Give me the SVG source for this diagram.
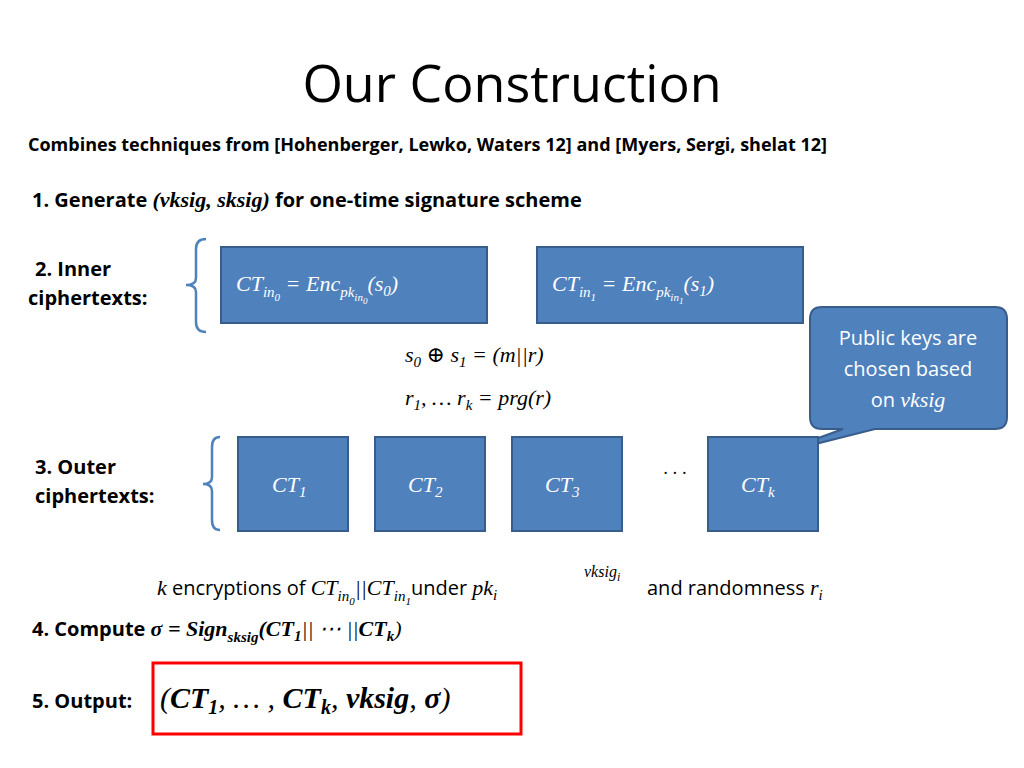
<svg xmlns="http://www.w3.org/2000/svg" width="1024" height="768" viewBox="0 0 1024 768">
<style>
.t{font-family:"Open Sans","Liberation Sans",sans-serif;fill:#000}
.b{font-weight:bold}
.m{font-family:"Liberation Serif","DejaVu Serif",serif;font-style:italic}
.w{fill:#fff}
.box{fill:#4F81BD;stroke:#385D8A;stroke-width:2}
.br{fill:none;stroke:#4F81BD;stroke-width:2.5}
</style>
<rect width="1024" height="768" fill="#fff"/>
<text class="t" x="512" y="102" font-size="52" text-anchor="middle">Our Construction</text>
<text class="t b" x="28" y="151" font-size="18">Combines techniques from [Hohenberger, Lewko, Waters 12] and [Myers, Sergi, shelat 12]</text>
<text class="t b" x="32" y="207" font-size="20">1.  Generate <tspan class="m" font-size="22">(vksig, sksig)</tspan> for one-time signature scheme</text>
<text class="t b" x="35" y="276" font-size="20">2.  Inner</text>
<text class="t b" x="28" y="305" font-size="20">ciphertexts:</text>
<path class="br" d="M206,239 Q196,239 196,249 L196,278 Q196,285 186,285 Q196,285 196,292 L196,322 Q196,332 206,332"/>
<g id="in0"><rect class="box" x="221" y="247" width="266" height="76"/>
<text class="m w" x="236" y="291" font-size="22">CT<tspan font-size="15" dy="6">in</tspan><tspan font-size="11" dy="4">0</tspan><tspan dy="-10"> = Enc</tspan><tspan font-size="15" dy="6">pk</tspan><tspan font-size="11" dy="4">in</tspan><tspan font-size="9" dy="3">0</tspan><tspan dy="-13">(s</tspan><tspan font-size="15" dy="5">0</tspan><tspan dy="-5">)</tspan></text></g>
<g id="in1"><rect class="box" x="537" y="247" width="266" height="76"/>
<text class="m w" x="552" y="291" font-size="22">CT<tspan font-size="15" dy="6">in</tspan><tspan font-size="11" dy="4">1</tspan><tspan dy="-10"> = Enc</tspan><tspan font-size="15" dy="6">pk</tspan><tspan font-size="11" dy="4">in</tspan><tspan font-size="9" dy="3">1</tspan><tspan dy="-13">(s</tspan><tspan font-size="15" dy="5">1</tspan><tspan dy="-5">)</tspan></text></g>
<text class="m" x="405" y="362" font-size="22">s<tspan font-size="15" dy="5">0</tspan><tspan dy="-5" font-style="normal"> ⊕ </tspan>s<tspan font-size="15" dy="5">1</tspan><tspan dy="-5"> = (m||r)</tspan></text>
<text class="m" x="405" y="405" font-size="22">r<tspan font-size="15" dy="5">1</tspan><tspan dy="-5">, … r</tspan><tspan font-size="15" dy="5">k</tspan><tspan dy="-5"> = prg(r)</tspan></text>
<g id="callout"><path class="box" d="M822,307 H995 Q1007,307 1007,319 V417 Q1007,429 995,429 H875 L772,455 L843,429 H822 Q810,429 810,417 V319 Q810,307 822,307 Z"/>
<text class="t w" x="908" y="345" font-size="20" text-anchor="middle">Public keys are</text>
<text class="t w" x="908" y="376" font-size="20" text-anchor="middle">chosen based</text>
<text class="t w" x="908" y="407" font-size="20" text-anchor="middle">on <tspan class="m" font-size="22">vksig</tspan></text></g>
<text class="t b" x="35" y="474" font-size="20">3.  Outer</text>
<text class="t b" x="35" y="503" font-size="20">ciphertexts:</text>
<path class="br" d="M220,437 Q212,437 212,447 L212,477 Q212,484 203,484 Q212,484 212,491 L212,520 Q212,530 220,530"/>
<g id="ct1"><rect class="box" x="238" y="437" width="110" height="94"/><text class="m w" x="272" y="492" font-size="22">CT<tspan font-size="15" dy="5">1</tspan></text></g>
<g id="ct2"><rect class="box" x="375" y="437" width="110" height="94"/><text class="m w" x="408" y="492" font-size="22">CT<tspan font-size="15" dy="5">2</tspan></text></g>
<g id="ct3"><rect class="box" x="512" y="437" width="110" height="94"/><text class="m w" x="545" y="492" font-size="22">CT<tspan font-size="15" dy="5">3</tspan></text></g>
<text class="t" x="675" y="474" font-size="18" text-anchor="middle">. . .</text>
<g id="ctk"><rect class="box" x="708" y="437" width="110" height="94"/><text class="m w" x="741" y="492" font-size="22">CT<tspan font-size="15" dy="5">k</tspan></text></g>
<text class="t" x="157" y="595" font-size="20"><tspan class="m" font-size="22">k</tspan> encryptions of <tspan class="m" font-size="22">CT<tspan font-size="15" dy="6">in</tspan><tspan font-size="11" dy="4">0</tspan><tspan dy="-10">||CT</tspan><tspan font-size="15" dy="6">in</tspan><tspan font-size="11" dy="4">1</tspan></tspan><tspan dy="-10">under </tspan><tspan class="m" font-size="22">pk<tspan font-size="15" dy="5">i</tspan></tspan></text>
<text class="m" x="584" y="577" font-size="16">vksig<tspan font-size="12" dy="4">i</tspan></text>
<text class="t" x="647" y="595" font-size="20">and randomness <tspan class="m" font-size="22">r<tspan font-size="15" dy="5">i</tspan></tspan></text>
<text class="t b" x="32" y="636" font-size="20">4.  Compute <tspan class="m" font-size="22">σ = Sign<tspan font-size="15" dy="6">sksig</tspan><tspan dy="-6">(CT</tspan><tspan font-size="15" dy="5">1</tspan><tspan dy="-5" font-weight="normal">|| ⋯ ||</tspan><tspan>CT</tspan><tspan font-size="15" dy="5">k</tspan><tspan dy="-5" font-weight="normal">)</tspan></tspan></text>
<text class="t b" x="32" y="708" font-size="20">5.  Output:</text>
<rect x="153" y="663" width="368" height="71" fill="none" stroke="#FF0000" stroke-width="3"/>
<text class="m b" x="160" y="708" font-size="30"><tspan font-weight="normal">(</tspan>CT<tspan font-size="20" dy="6">1</tspan><tspan dy="-6" font-weight="normal">, … , </tspan>CT<tspan font-size="20" dy="6">k</tspan><tspan dy="-6" font-weight="normal">, </tspan>vksig<tspan font-weight="normal">, </tspan>σ<tspan font-weight="normal">)</tspan></text>
</svg>
